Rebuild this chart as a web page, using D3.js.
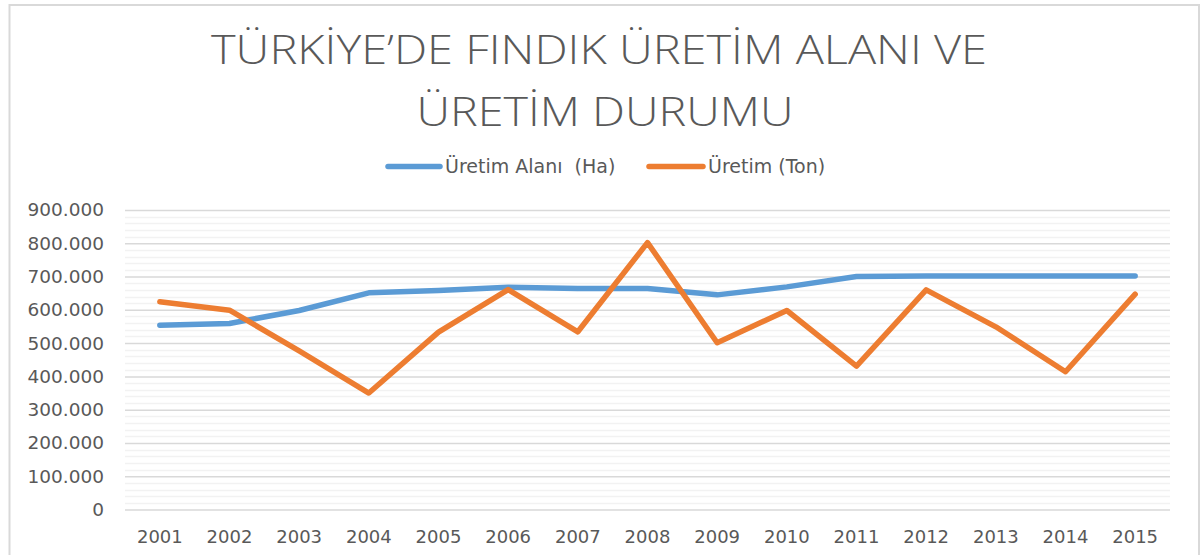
<!DOCTYPE html>
<html>
<head>
<meta charset="utf-8">
<script src="https://cdn.jsdelivr.net/npm/d3@7"></script>
<style>
  html, body { margin: 0; padding: 0; background: #ffffff; }
  svg { display: block; }
</style>
</head>
<body>
<svg id="chart" width="1202" height="555"></svg>
<script>
// ---- data ----
const years = ["2001","2002","2003","2004","2005","2006","2007","2008","2009","2010","2011","2012","2013","2014","2015"];
const alanValues = [554000, 559000, 598000, 651000, 658000, 668000, 664000, 664000, 645000, 669000, 700000, 702000, 702000, 702000, 702000];
const uretimValues = [624000, 599000, 477000, 350000, 533000, 661000, 534000, 802000, 501000, 598000, 431000, 660000, 549000, 414000, 647000];
const seriesNames = ["Üretim Alanı  (Ha)", "Üretim (Ton)"];
const yTicks = [0, 100000, 200000, 300000, 400000, 500000, 600000, 700000, 800000, 900000];
const titleLines = ["TÜRKİYE’DE FINDIK ÜRETİM ALANI VE", "ÜRETİM DURUMU"];

// ---- layout ----
const W = 1202, H = 555;
const plot = { left: 125, right: 1170, top: 210, bottom: 509.5 };
const colors = ["#5b9bd5", "#ed7d31"];
const textColor = "#595959";

const svg = d3.select("#chart");

// chart-area frame
svg.append("rect")
  .attr("x", 9.5).attr("y", 5).attr("width", 1189.5).attr("height", 560)
  .attr("fill", "#ffffff").attr("stroke", "#d9d9d9").attr("stroke-width", 2);

// scales
const x = d3.scaleBand().domain(years).range([plot.left, plot.right]).padding(0);
const y = d3.scaleLinear().domain([0, 900000]).range([plot.bottom, plot.top]);
const cx = d => x(d) + x.bandwidth() / 2;

const locale = d3.formatLocale({ decimal: ",", thousands: ".", grouping: [3], currency: ["", ""] });
const fmt = locale.format(",");

// minor gridlines
const minor = d3.range(0, 900001, 20000).filter(v => v % 100000 !== 0);
svg.append("g").selectAll("line").data(minor).join("line")
  .attr("x1", plot.left).attr("x2", plot.right)
  .attr("y1", d => Math.round(y(d)) + 0.5).attr("y2", d => Math.round(y(d)) + 0.5)
  .attr("stroke", "#f2f2f2").attr("stroke-width", 1.5);

// y axis with major gridlines
const yAxis = d3.axisLeft(y).tickValues(yTicks).tickFormat(fmt)
  .tickSize(-(plot.right - plot.left)).tickPadding(21);
const gy = svg.append("g").attr("transform", `translate(${plot.left},0)`).call(yAxis);
gy.select(".domain").remove();
gy.selectAll(".tick line").attr("stroke", "#d9d9d9").attr("stroke-width", 1.5);
gy.selectAll(".tick text")
  .attr("fill", textColor)
  .style("font-family", "'DejaVu Sans', sans-serif")
  .style("font-size", "18.5px");

// x axis
const xAxis = d3.axisBottom(x).tickSize(0).tickPadding(21);
const gx = svg.append("g").attr("transform", `translate(0,${plot.bottom})`).call(xAxis);
gx.select(".domain").remove();
gx.selectAll(".tick text")
  .attr("fill", textColor)
  .style("font-family", "'DejaVu Sans', sans-serif")
  .style("font-size", "18px");

// lines
const line = d3.line().x((d, i) => cx(years[i])).y(d => y(d));
[alanValues, uretimValues].forEach((vals, k) => {
  svg.append("path")
    .datum(vals)
    .attr("d", line)
    .attr("fill", "none")
    .attr("stroke", colors[k])
    .attr("stroke-width", 5.5)
    .attr("stroke-linecap", "round")
    .attr("stroke-linejoin", "round");
});

// title
const titleG = svg.append("g");
const titleX = [599, 605];
const titleY = [63.5, 125.5];
const titleW = [776, 377];
titleLines.forEach((t, i) => {
  titleG.append("text")
    .attr("x", titleX[i]).attr("y", titleY[i])
    .attr("text-anchor", "middle")
    .attr("fill", textColor)
    .attr("textLength", titleW[i])
    .attr("lengthAdjust", "spacingAndGlyphs")
    .style("font-family", "'Open Sans', 'Noto Sans', sans-serif")
    .style("font-weight", 300)
    .style("font-size", "41px")
    .text(t);
});

// legend
const legendItems = [
  { name: seriesNames[0], color: colors[0], x1: 388, x2: 440, tx: 445 },
  { name: seriesNames[1], color: colors[1], x1: 649, x2: 703, tx: 708 }
];
const legY = 166.5;
const lg = svg.append("g");
legendItems.forEach(it => {
  lg.append("line")
    .attr("x1", it.x1).attr("x2", it.x2).attr("y1", legY).attr("y2", legY)
    .attr("stroke", it.color).attr("stroke-width", 5.5).attr("stroke-linecap", "round");
  lg.append("text")
    .attr("x", it.tx).attr("y", legY + 6.5)
    .attr("fill", textColor)
    .style("white-space", "pre")
    .style("font-family", "'DejaVu Sans', sans-serif")
    .style("font-size", "19px")
    .text(it.name);
});
</script>
</body>
</html>
